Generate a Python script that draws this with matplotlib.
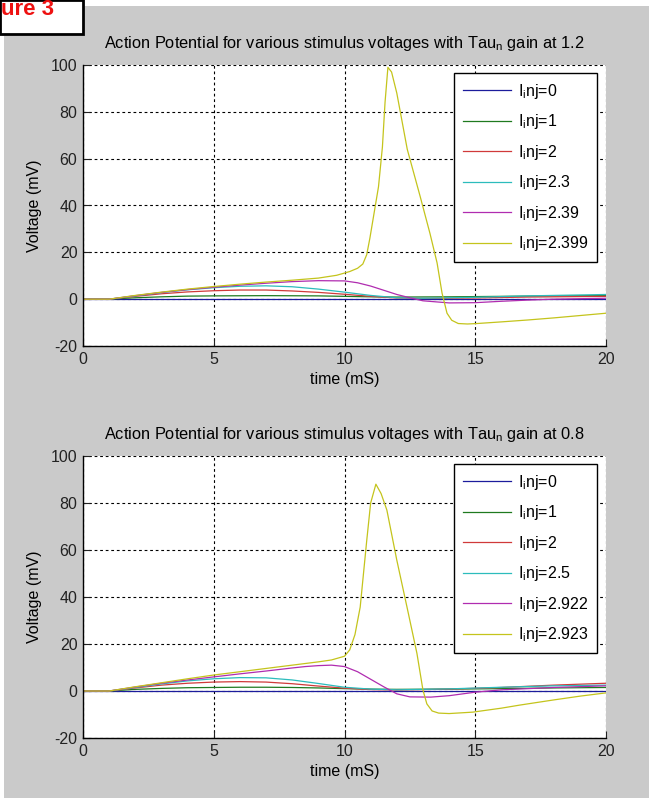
import numpy as np
import matplotlib
matplotlib.use("Agg")
import matplotlib.pyplot as plt
from matplotlib.patches import Rectangle

plt.rcParams['font.family'] = ['Liberation Sans', 'DejaVu Sans']
plt.rcParams['font.size'] = 11.5
plt.rcParams['axes.unicode_minus'] = False
plt.rcParams['mathtext.fontset'] = 'custom'
plt.rcParams['mathtext.rm'] = 'Liberation Sans'
plt.rcParams['mathtext.it'] = 'Liberation Sans'

#%% data (time in ms, voltage in mV)
colours = ['#1c1c9c', '#1f7a1f', '#d03a3a', '#2cbcbc', '#b02cb0', '#c4c41c']

# gain 1.2
top_gain = '1.2'
top_inj = ['0', '1', '2', '2.3', '2.39', '2.399']
top_t0 = [0, 20]
top_v0 = [0, 0]
top_t1 = [0, 1, 2, 3, 4, 5, 7, 9, 10, 11, 12, 14, 16, 18, 20]
top_v1 = [0, 0, 0.6, 1.0, 1.3, 1.4, 1.5, 1.4, 1.2, 1.0, 0.9, 1.0, 1.2, 1.4, 1.5]
top_t2 = [0, 1, 2, 3, 4, 5, 6, 7, 8, 9, 10, 11, 12, 13, 15, 17, 20]
top_v2 = [0, 0, 1.2, 2.3, 3.1, 3.6, 3.9, 3.9, 3.5, 2.9, 2.1, 1.2, 0.5, 0.3, 0.5, 0.9, 1.2]
top_t3 = [0, 1, 2, 3, 4, 5, 6, 7, 8, 9, 10, 11, 12, 13, 15, 17, 20]
top_v3 = [0, 0, 1.4, 2.8, 4.0, 4.9, 5.5, 5.7, 5.3, 4.3, 3.0, 1.6, 0.6, 0.4, 0.8, 1.4, 2.0]
top_t4 = [0, 1, 2, 3, 4, 5, 6, 7, 8, 9, 10, 10.5, 11, 11.5, 12, 12.5, 13, 14, 15, 16, 17, 18, 20]
top_v4 = [0, 0, 1.5, 2.9, 4.1, 5.1, 6.0, 6.8, 7.5, 7.9, 7.8, 7.0, 5.6, 3.8, 2.0, 0.6, -0.7, -1.6, -1.5, -0.9, -0.4, 0.0, 0.4]
top_t5 = [0, 1, 2, 3, 4, 5, 6, 7, 8, 9, 9.7, 10.2, 10.5, 10.7, 10.85, 10.97, 11.15, 11.3, 11.45,
          11.55, 11.66, 11.8, 12.0, 12.4, 12.9, 13.27, 13.54, 13.73, 13.92, 14.1, 14.35, 14.7,
          15.07, 16, 17, 18, 19, 20]
top_v5 = [0, 0, 1.6, 3.0, 4.3, 5.4, 6.4, 7.3, 8.1, 9.0, 10.2, 11.8, 13.2, 15.0, 19.0, 26, 38, 48, 65,
          84, 99, 97, 88, 64, 43.6, 28, 15.5, 2.6, -6, -9.0, -10.4, -10.6,
          -10.4, -9.7, -8.9, -8.0, -7.0, -6.0]

# gain 0.8
bot_gain = '0.8'
bot_inj = ['0', '1', '2', '2.5', '2.922', '2.923']
bot_t0 = [0, 20]
bot_v0 = [0, 0]
bot_t1 = [0, 1, 2, 3, 4, 5, 6, 7, 8, 9, 10, 11, 12, 14, 16, 18, 20]
bot_v1 = [0, 0, 0.7, 1.1, 1.4, 1.5, 1.6, 1.6, 1.5, 1.3, 1.0, 0.8, 0.7, 0.8, 1.0, 1.3, 1.5]
bot_t2 = [0, 1, 2, 3, 4, 5, 6, 7, 8, 9, 10, 11, 12, 14, 16, 18, 20]
bot_v2 = [0, 0, 1.3, 2.5, 3.3, 3.8, 4.0, 3.8, 3.1, 2.1, 1.2, 0.6, 0.4, 0.8, 1.5, 2.5, 3.3]
bot_t3 = [0, 1, 2, 3, 4, 5, 6, 7, 8, 9, 10, 11, 12, 14, 16, 18, 20]
bot_v3 = [0, 0, 1.5, 3.0, 4.3, 5.2, 5.7, 5.6, 4.7, 3.2, 1.6, 0.8, 0.5, 0.9, 1.6, 2.2, 2.5]
bot_t4 = [0, 1, 2, 3, 4, 5, 6, 7, 8, 8.5, 9, 9.5, 10, 10.5, 11, 11.5, 12, 12.5, 13.3, 14, 15, 16, 18, 20]
bot_v4 = [0, 0, 1.7, 3.3, 4.7, 6.0, 7.3, 8.5, 9.8, 10.4, 10.8, 11.0, 10.4, 8.2, 5.0, 1.8, -1.2, -2.5, -2.6, -2.0, -0.5, 0.5, 1.5, 2.2]
bot_t5 = [0, 1, 2, 3, 4, 5, 6, 7, 8, 9, 9.5, 10, 10.2, 10.4, 10.6, 10.85, 11.0, 11.2, 11.4, 11.62,
          12.0, 12.39, 12.77, 13.0, 13.15, 13.35, 13.6, 14, 14.9, 16, 16.7, 18, 19, 20]
bot_v5 = [0, 0, 1.8, 3.5, 5.2, 6.8, 8.2, 9.6, 11.0, 12.4, 13.2, 14.8, 17.5, 24, 35.7, 64, 80, 88, 84, 77,
          55.7, 35.7, 16, 0.4, -5.5, -8.5, -9.4, -9.6, -9.0, -7.3, -6.0, -3.8, -2.2, -0.8]

top_traces = [(top_t0, top_v0), (top_t1, top_v1), (top_t2, top_v2),
              (top_t3, top_v3), (top_t4, top_v4), (top_t5, top_v5)]
bot_traces = [(bot_t0, bot_v0), (bot_t1, bot_v1), (bot_t2, bot_v2),
              (bot_t3, bot_v3), (bot_t4, bot_v4), (bot_t5, bot_v5)]

#%% figure
W, H = 649, 798
fig = plt.figure(figsize=(W / 100, H / 100), dpi=100, facecolor='white')

# grey matlab window area
fig.patches.append(Rectangle((4 / W, 0), 1, 1 - 6 / H, transform=fig.transFigure,
                             facecolor='#cacaca', edgecolor='none', zorder=-10))


def draw_panel(rect, traces, inj, gain):
    ax = fig.add_axes(rect)
    ax.set_facecolor('white')
    for (t, v), c, lab in zip(traces, colours, inj):
        ax.plot(t, v, color=c, lw=0.9, label=r'I$_\mathregular{i}$nj=' + lab)
    ax.set_xlim(0, 20)
    ax.set_ylim(-20, 100)
    ax.set_xticks([0, 5, 10, 15, 20])
    ax.set_yticks([-20, 0, 20, 40, 60, 80, 100])
    ax.grid(True, color='black', lw=0.8, linestyle=(0, (2.5, 2.5)))
    ax.set_axisbelow(True)
    ax.spines['top'].set_visible(False)
    ax.spines['right'].set_visible(False)
    ax.spines['left'].set_linewidth(1.0)
    ax.spines['bottom'].set_linewidth(1.0)
    ax.tick_params(direction='in', length=5, width=0.8, labelsize=11.5, pad=4,
                   colors='#222222')
    ax.set_xlabel('time (mS)', fontsize=11.5, labelpad=4)
    ax.set_ylabel('Voltage (mV)', fontsize=11.5, labelpad=6)
    ax.set_title(r'Action Potential for various stimulus voltages with Tau$_\mathregular{n}$ gain at ' + gain,
                 fontsize=11.8, pad=12)
    leg = ax.legend(loc='upper right', bbox_to_anchor=(0.983, 0.972), fancybox=False,
                    framealpha=1, edgecolor='black', fontsize=11.5, handlelength=3.0,
                    handletextpad=0.45, labelspacing=0.72, borderpad=0.55, borderaxespad=0)
    leg.get_frame().set_linewidth(1.0)
    return ax


draw_panel([83 / W, 1 - 346 / H, 523 / W, 281 / H], top_traces, top_inj, top_gain)
draw_panel([83 / W, 1 - 738 / H, 523 / W, 282 / H], bot_traces, bot_inj, bot_gain)

# cropped "Figure 3" tag in the corner, only its visible end is shown
fig.patches.append(Rectangle((0, 1 - 34 / H), 83 / W, 34 / H, transform=fig.transFigure,
                             facecolor='white', edgecolor='black', lw=2, zorder=5))
fig.text(1 / W, 1 - 15 / H, 'ure 3', color='#ee1111', fontsize=16, fontweight='bold',
         ha='left', va='baseline', zorder=6)

fig.savefig('out.png', dpi=100, facecolor=fig.get_facecolor())
